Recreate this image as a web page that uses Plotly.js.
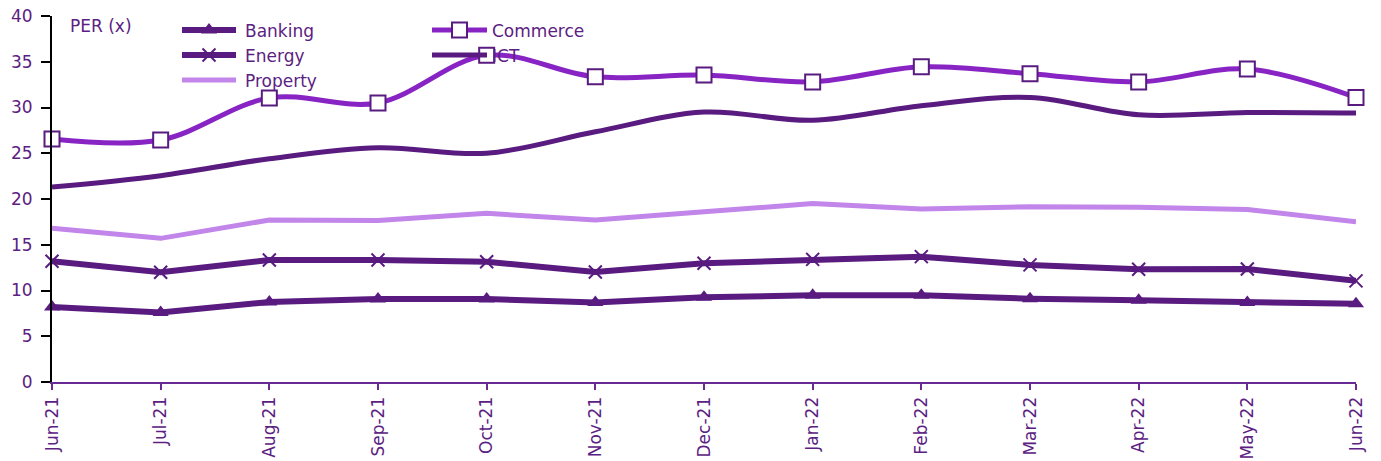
<!DOCTYPE html>
<html>
<head>
<meta charset="utf-8">
<script src="https://cdn.plot.ly/plotly-3.0.1.min.js"></script>
<style>html,body{margin:0;padding:0;background:#fff;}#chart{width:1381px;height:461px;}</style>
</head>
<body>
<div id="chart"></div>
<script>
const months = ["Jun-21","Jul-21","Aug-21","Sep-21","Oct-21","Nov-21","Dec-21","Jan-22","Feb-22","Mar-22","Apr-22","May-22","Jun-22"];
const banking  = [8.2, 7.6, 8.75, 9.07, 9.07, 8.7, 9.25, 9.47, 9.47, 9.1, 8.93, 8.7, 8.55];
const energy   = [13.2, 12.0, 13.33, 13.33, 13.15, 12.02, 12.97, 13.4, 13.7, 12.8, 12.32, 12.35, 11.05];
const commerce = [26.55, 26.45, 31.05, 30.5, 35.7, 33.35, 33.55, 32.8, 34.45, 33.7, 32.8, 34.2, 31.1];
const ict      = [21.3, 22.55, 24.4, 25.6, 25.0, 27.35, 29.5, 28.6, 30.2, 31.1, 29.2, 29.45, 29.4];
const property = [16.8, 15.7, 17.7, 17.65, 18.43, 17.7, 18.6, 19.5, 18.9, 19.15, 19.1, 18.85, 17.5];

const dark = "#591b7f";
const txt = "#5b2182";
const font = {family: "DejaVu Sans, Verdana, sans-serif", size: 17, color: txt};

const traces = [
  {name: "Banking", x: months, y: banking, type: "scatter", mode: "lines+markers", cliponaxis: false,
   line: {color: dark, width: 6}, marker: {symbol: "triangle-up", size: 14, color: dark}, legend: "legend"},
  {name: "Energy", x: months, y: energy, type: "scatter", mode: "lines+markers", cliponaxis: false,
   line: {color: dark, width: 6}, marker: {symbol: "x-thin-open", size: 13, color: dark, line: {color: dark, width: 2}}, legend: "legend"},
  {name: "Property", x: months, y: property, type: "scatter", mode: "lines", cliponaxis: false,
   line: {color: "#c285ea", width: 5}, legend: "legend"},
  {name: "ICT", x: months, y: ict, type: "scatter", mode: "lines", cliponaxis: false,
   line: {color: dark, width: 5, shape: "spline", smoothing: 1}, legend: "legend2"},
  {name: "Commerce", x: months, y: commerce, type: "scatter", mode: "lines+markers", cliponaxis: false,
   line: {color: "#8724c3", width: 5, shape: "spline", smoothing: 1},
   marker: {symbol: "square", size: 15, color: "#ffffff", line: {color: dark, width: 2}}, legend: "legend2"}
];

const plotW = 1381 - 52 - 25;
const layout = {
  width: 1381, height: 461,
  margin: {l: 52, r: 25, t: 16, b: 79},
  paper_bgcolor: "#ffffff", plot_bgcolor: "#ffffff",
  font: font,
  showlegend: true,
  xaxis: {
    type: "category", range: [0, 12], showgrid: false, zeroline: false,
    showline: true, linecolor: "#6a2a96", linewidth: 2,
    ticks: "outside", ticklen: 6, tickcolor: "#6a2a96", tickwidth: 2,
    tickangle: -90, tickfont: {family: font.family, size: 17, color: txt}
  },
  yaxis: {
    range: [0, 40], dtick: 5, showgrid: false, zeroline: false,
    showline: true, linecolor: "#000000", linewidth: 2,
    ticks: "outside", ticklen: 9, tickcolor: "#000000", tickwidth: 2,
    ticklabelstandoff: 5,
    tickfont: {family: font.family, size: 17, color: txt}
  },
  legend: {x: (180 - 52) / plotW, y: 1.01, yanchor: "top", xanchor: "left", itemwidth: 55,
    bgcolor: "rgba(0,0,0,0)", font: font, traceorder: "normal"},
  legend2: {x: (427 - 52) / plotW, y: 1.01, yanchor: "top", xanchor: "left", itemwidth: 55,
    bgcolor: "rgba(0,0,0,0)", font: font, traceorder: "reversed"},
  annotations: [
    {text: "PER (x)", xref: "paper", yref: "paper", x: 0.012, y: 1.005, xanchor: "left", yanchor: "top",
     showarrow: false, font: {family: font.family, size: 17, color: txt}}
  ]
};

Plotly.newPlot("chart", traces, layout, {displayModeBar: false, staticPlot: true}).then(function (gd) {
  // stretch legend line samples so they run up to just before the label, as in the reference
  gd.querySelectorAll(".legend .traces").forEach(function (t) {
    const te = t.querySelector("text.legendtext");
    const tx = te ? parseFloat(te.getAttribute("x")) || 40 : 40;
    const end = tx - 9, start = 2;
    t.querySelectorAll(".legendlines path").forEach(function (p) { p.setAttribute("d", "M" + start + ",0H" + end); });
    t.querySelectorAll(".legendpoints path").forEach(function (p) {
      p.setAttribute("transform", "translate(" + ((start + end) / 2) + ",0)");
    });
  });
});
</script>
</body>
</html>
